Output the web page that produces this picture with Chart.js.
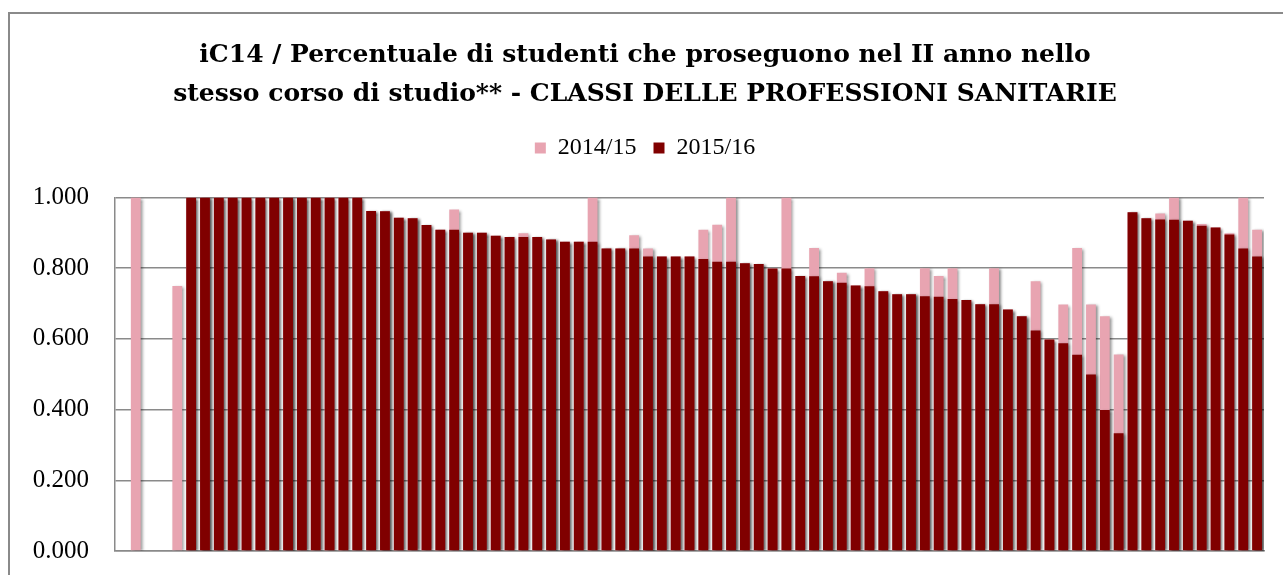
<!DOCTYPE html>
<html>
<head>
<meta charset="utf-8">
<script src="https://cdn.jsdelivr.net/npm/chart.js@4.4.1/dist/chart.umd.min.js"></script>
<style>
  html, body { margin: 0; padding: 0; background: #fff; }
  #wrap { position: relative; width: 1283px; height: 575px; overflow: hidden; }
  #frame { position: absolute; left: 8px; top: 12px; width: 1400px; height: 700px;
           border-left: 2px solid #8a8a8a; border-top: 2px solid #8a8a8a; }
  canvas { position: absolute; left: 0; top: 0; }
</style>
</head>
<body>
<div id="wrap">
  <div id="frame"></div>
  <canvas id="barChart" width="1283" height="575"></canvas>
</div>
<script>
const seriesNames = ['2014/15', '2015/16'];

// 83 corsi (il primo senza dati)
const categories = Array.from({ length: 83 }, (_, i) => 'Corso ' + (i + 1));

const values1415 = [
    null, 1.000, null, null, 0.750,
    1.000, 1.000, 1.000, 1.000, 1.000, 1.000, 1.000, 1.000, 1.000, 1.000, 1.000, 1.000, 1.000,
    0.962, 0.961, 0.943, 0.941, 0.922, 0.909, 0.966, 0.900, 0.900, 0.892,
    0.888, 0.899, 0.888, 0.881, 0.875, 0.875, 1.000, 0.856, 0.856, 0.893,
    0.856, 0.833, 0.833, 0.833, 0.909, 0.923, 1.000, 0.814, 0.812, 0.799,
    1.000, 0.778, 0.857, 0.763, 0.787, 0.751, 0.800, 0.735, 0.726, 0.726,
    0.800, 0.778, 0.800, 0.710, 0.698, 0.800, 0.683, 0.664, 0.763, 0.598,
    0.697, 0.857, 0.697, 0.664, 0.556, 0.958, 0.941, 0.955, 1.000, 0.934,
    0.925, 0.915, 0.899, 1.000, 0.909
];

const values1516 = [
    null, null, null, null, null,
    1.000, 1.000, 1.000, 1.000, 1.000, 1.000, 1.000, 1.000, 1.000, 1.000, 1.000, 1.000, 1.000,
    0.962, 0.961, 0.943, 0.941, 0.922, 0.909, 0.909, 0.900, 0.900, 0.892,
    0.888, 0.888, 0.888, 0.881, 0.875, 0.875, 0.875, 0.856, 0.856, 0.856,
    0.833, 0.833, 0.833, 0.833, 0.826, 0.818, 0.818, 0.814, 0.812, 0.799,
    0.799, 0.778, 0.777, 0.763, 0.759, 0.751, 0.749, 0.735, 0.726, 0.726,
    0.721, 0.719, 0.713, 0.710, 0.698, 0.698, 0.683, 0.664, 0.624, 0.598,
    0.588, 0.555, 0.499, 0.399, 0.333, 0.958, 0.941, 0.938, 0.937, 0.934,
    0.920, 0.915, 0.895, 0.856, 0.833
];

const yTicks = [0, 0.2, 0.4, 0.6, 0.8, 1.0];

// ombra morbida sotto le barre, come nel grafico Excel
const barShadow = {
    id: 'barShadow',
    beforeDatasetsDraw(chart) {
        const c = chart.ctx;
        c.save();
        c.shadowColor = 'rgba(0,0,0,0.45)';
        c.shadowBlur = 3;
        c.shadowOffsetX = 2;
        c.shadowOffsetY = 1;
    },
    afterDatasetsDraw(chart) {
        chart.ctx.restore();
    }
};

const ctx = document.getElementById('barChart').getContext('2d');

new Chart(ctx, {
    type: 'bar',
    data: {
        labels: categories,
        datasets: [{
            label: seriesNames[1],
            data: values1516,
            backgroundColor: '#800000',
            grouped: false,
            barPercentage: 0.71,
            categoryPercentage: 1
        }, {
            label: seriesNames[0],
            data: values1415,
            backgroundColor: '#E8A4B1',
            grouped: false,
            barPercentage: 0.71,
            categoryPercentage: 1
        }]
    },
    options: {
        responsive: false,
        animation: false,
        layout: {
            padding: { left: 26, right: 19, top: 0, bottom: 24 }
        },
        plugins: {
            title: {
                display: true,
                text: [
                    'iC14 / Percentuale di studenti che proseguono nel II anno nello',
                    'stesso corso di studio** - CLASSI DELLE PROFESSIONI SANITARIE'
                ],
                color: '#000',
                font: { family: '"DejaVu Serif"', size: 25, weight: 'bold', lineHeight: 1.548 },
                padding: { top: 36.3, bottom: 5.3 }
            },
            legend: {
                reverse: true,
                labels: {
                    color: '#000',
                    font: { family: '"Liberation Serif"', size: 24 },
                    boxWidth: 11,
                    boxHeight: 11,
                    padding: 17
                }
            },
            tooltip: { enabled: false }
        },
        scales: {
            x: {
                grid: { display: false },
                border: { display: true, color: '#8a8a8a', width: 1.5 },
                ticks: { display: false },
                afterFit(scale) { scale.height = 0; }
            },
            xTop: {
                type: 'category',
                position: 'top',
                grid: { display: false },
                border: { display: false },
                ticks: { display: false },
                afterFit(scale) { scale.height = 27.5; }
            },
            y: {
                min: 0,
                max: 1,
                afterBuildTicks(scale) {
                    scale.ticks = yTicks.map(v => ({ value: v }));
                },
                grid: {
                    color: '#8a8a8a',
                    lineWidth: 1.5,
                    drawTicks: true,
                    tickLength: 26,
                    tickColor: 'rgba(0,0,0,0)'
                },
                border: { display: true, color: '#8a8a8a', width: 1.5 },
                ticks: {
                    color: '#000',
                    padding: 0,
                    font: { family: '"Liberation Serif"', size: 25 },
                    callback: function(value) {
                        return Number(value).toFixed(3);
                    }
                },
                afterFit(scale) { scale.width = 89; }
            }
        }
    },
    plugins: [barShadow]
});
</script>
</body>
</html>
